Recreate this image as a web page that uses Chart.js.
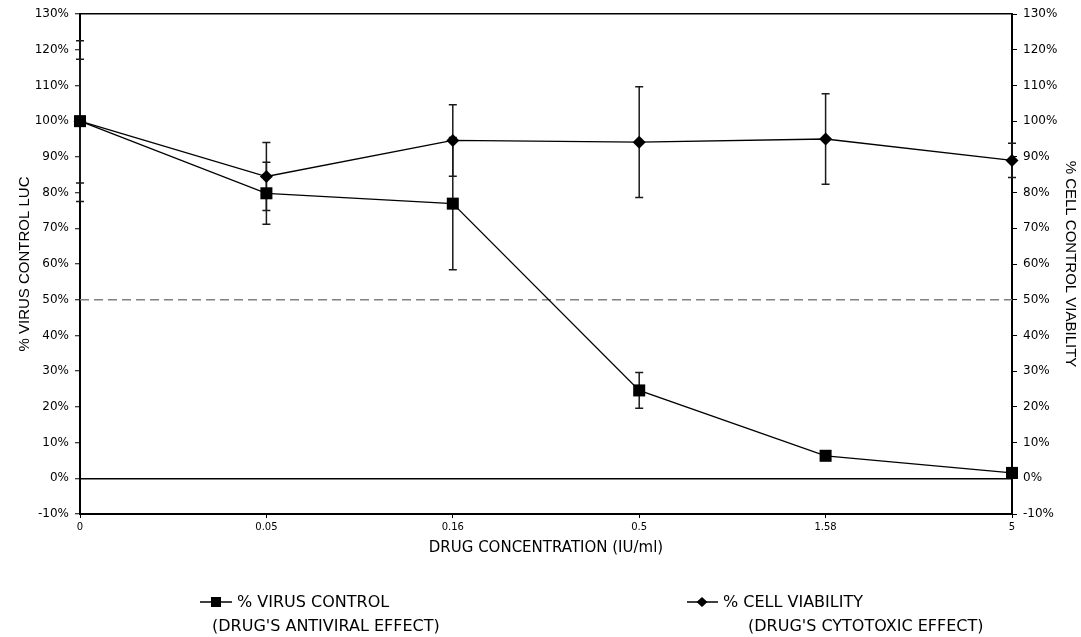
<!DOCTYPE html>
<html>
<head>
<meta charset="utf-8">
<script src="https://cdn.jsdelivr.net/npm/chart.js@4.4.1/dist/chart.umd.min.js"></script>
<style>
html, body { margin: 0; padding: 0; background: #fff; }
#wrap { position: relative; width: 1081px; height: 637px; }
#chart { position: absolute; left: 0; top: 0; }
.leg { position: absolute; font-family: 'DejaVu Sans', sans-serif; font-size: 16px; color: #000; white-space: nowrap; line-height: 20px; }
.leg svg { vertical-align: top; margin-right: 4px; }
</style>
</head>
<body>
<div id="wrap">
    <canvas id="chart" width="1081" height="637"></canvas>
    <div class="leg" style="left:200px;top:592px"><svg width="33" height="20"><line x1="0" y1="10" x2="32" y2="10" stroke="#000" stroke-width="1.5"/><rect x="11" y="5" width="10" height="10" fill="#000"/></svg>% VIRUS CONTROL</div>
    <div class="leg" style="left:212px;top:616px">(DRUG'S ANTIVIRAL EFFECT)</div>
    <div class="leg" style="left:687px;top:592px"><svg width="32" height="20"><line x1="0" y1="10" x2="31" y2="10" stroke="#000" stroke-width="1.5"/><polygon points="15,5 20.5,10 15,15 9.5,10" fill="#000"/></svg>% CELL VIABILITY</div>
    <div class="leg" style="left:748px;top:616px">(DRUG'S CYTOTOXIC EFFECT)</div>
</div>
<script>
// drug concentrations (IU/ml)
const DOSES = ['0', '0.05', '0.16', '0.5', '1.58', '5'];

// % virus control (luciferase) and its error
const VIRUS     = [100, 79.8, 76.9, 24.6, 6.3, 1.5];
const VIRUS_ERR = [22.5, 8.7, 18.5, 5.0, 1.0, 0.8];

// % cell viability and its error
const CELL      = [100, 84.5, 94.6, 94.1, 95.0, 89.0];
const CELL_ERR  = [17.3, 9.5, 10.0, 15.5, 12.7, 4.8];

const Y_MIN = -10, Y_MAX = 130, Y_STEP = 10;
const CUTOFF = 50;

const TICK_FONT = { family: "'DejaVu Sans', sans-serif", size: 12 };
const TITLE_FONT = { family: "'Liberation Sans', Arial, sans-serif", size: 15 };

// draws vertical error bars with caps under the markers
const errorBars = {
    id: 'errorBars',
    beforeDatasetsDraw(chart) {
        const ctx = chart.ctx;
        ctx.save();
        ctx.strokeStyle = '#1a1a1a';
        ctx.lineWidth = 1.5;
        chart.data.datasets.forEach((ds, i) => {
            if (!ds.errors) return;
            const meta = chart.getDatasetMeta(i);
            const ys = chart.scales[meta.yAxisID];
            meta.data.forEach((pt, j) => {
                const e = ds.errors[j];
                if (!e) return;
                const top = ys.getPixelForValue(ds.data[j] + e);
                const bot = ys.getPixelForValue(ds.data[j] - e);
                ctx.beginPath();
                ctx.moveTo(pt.x, top); ctx.lineTo(pt.x, bot);
                ctx.moveTo(pt.x - 4, top); ctx.lineTo(pt.x + 4, top);
                ctx.moveTo(pt.x - 4, bot); ctx.lineTo(pt.x + 4, bot);
                ctx.stroke();
            });
        });
        ctx.restore();
    }
};

const yTicks = {
    color: '#000',
    font: TICK_FONT,
    stepSize: Y_STEP,
    padding: 6,
    callback: v => v + '%'
};

new Chart(document.getElementById('chart').getContext('2d'), {
    type: 'line',
    data: {
        labels: DOSES,
        datasets: [
            {
                label: '% VIRUS CONTROL',
                data: VIRUS,
                errors: VIRUS_ERR,
                yAxisID: 'y',
                borderColor: '#000',
                borderWidth: 1.3,
                pointStyle: 'rect',
                pointRadius: 8.5,
                pointBackgroundColor: '#000',
                pointBorderWidth: 0,
                clip: false,
                order: 1
            },
            {
                label: '% CELL VIABILITY',
                data: CELL,
                errors: CELL_ERR,
                yAxisID: 'y2',
                borderColor: '#000',
                borderWidth: 1.3,
                pointStyle: 'rectRot',
                pointRadius: 6.5,
                pointBackgroundColor: '#000',
                pointBorderWidth: 0,
                clip: false,
                order: 2
            },
            {
                label: '50%',
                data: DOSES.map(() => CUTOFF),
                yAxisID: 'y',
                borderColor: '#808080',
                borderWidth: 1.5,
                borderDash: [9, 5],
                pointRadius: 0,
                order: 3
            }
        ]
    },
    options: {
        responsive: false,
        animation: false,
        devicePixelRatio: 1,
        layout: { padding: { top: 14, bottom: 77, left: 0, right: 0 } },
        plugins: {
            legend: { display: false },
            tooltip: { enabled: false }
        },
        scales: {
            x: {
                type: 'category',
                offset: false,
                grid: { drawOnChartArea: false, tickColor: '#000', tickLength: 4 },
                border: { color: '#000', width: 2 },
                ticks: { color: '#000', font: { family: "'DejaVu Sans', sans-serif", size: 10 }, maxRotation: 0, padding: 3 },
                title: { display: true, text: 'DRUG CONCENTRATION (IU/ml)', color: '#000', font: { family: "'DejaVu Sans', sans-serif", size: 15 }, padding: { top: 4, bottom: 3 } },
                afterFit: s => { s.height = 46; }
            },
            y: {
                position: 'left',
                min: Y_MIN, max: Y_MAX,
                grid: {
                    color: c => (c.tick && (c.tick.value === 0 || c.tick.value === Y_MAX)) ? '#000' : 'rgba(0,0,0,0)',
                    lineWidth: 1.5,
                    tickColor: '#000',
                    tickWidth: 1,
                    tickLength: 5
                },
                border: { color: '#000', width: 2 },
                ticks: yTicks,
                title: { display: true, text: '% VIRUS CONTROL LUC', color: '#000', font: TITLE_FONT, padding: { top: 16, bottom: 0 } },
                afterFit: s => { s.width = 80; }
            },
            y2: {
                position: 'right',
                min: Y_MIN, max: Y_MAX,
                grid: { drawOnChartArea: false, tickColor: '#000', tickWidth: 1, tickLength: 5 },
                border: { color: '#000', width: 2 },
                ticks: yTicks,
                title: { display: true, text: '% CELL CONTROL VIABILITY', color: '#000', font: TITLE_FONT, padding: { top: 2, bottom: 0 } },
                afterFit: s => { s.width = 69; }
            }
        }
    },
    plugins: [errorBars]
});
</script>
</body>
</html>
